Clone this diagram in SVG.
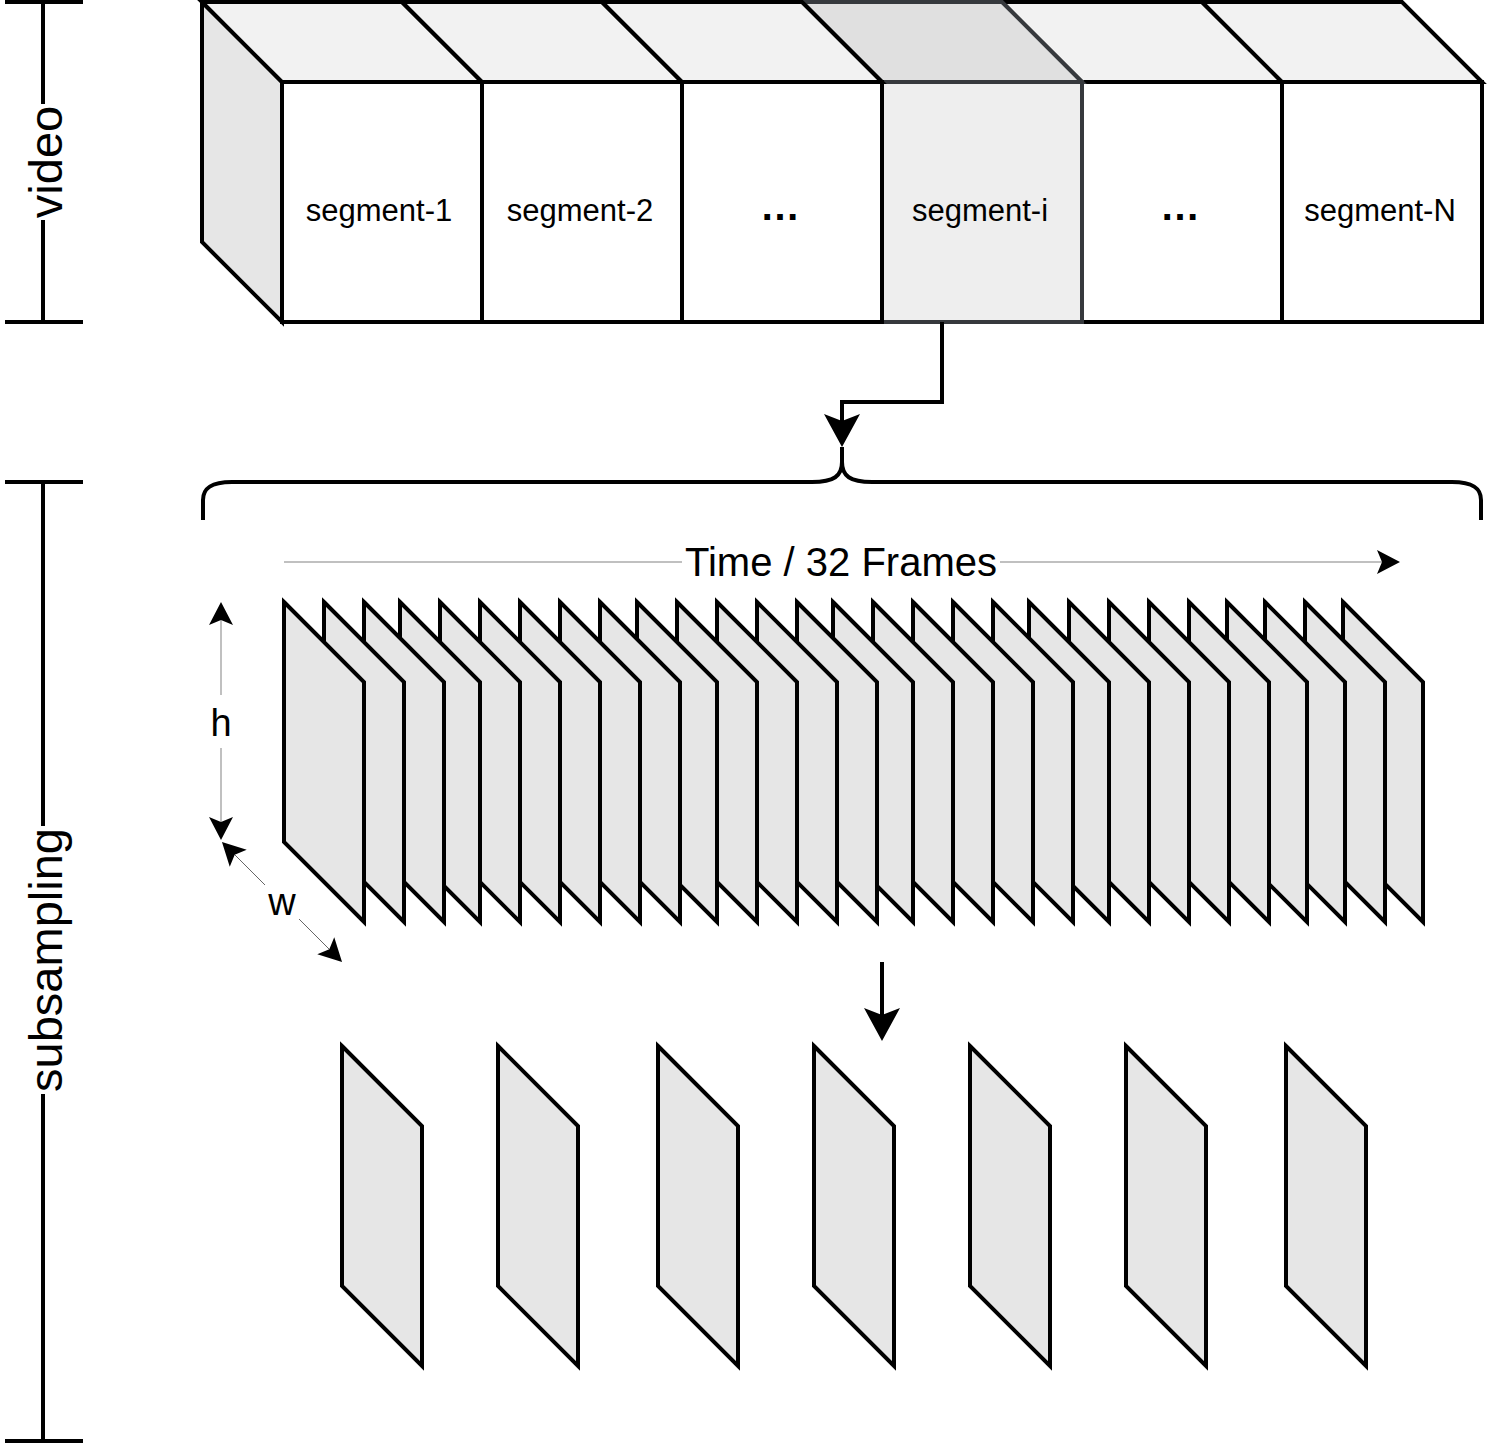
<svg xmlns="http://www.w3.org/2000/svg" width="1488" height="1444" viewBox="0 0 1488 1444">
<style>
.top{fill:#f2f2f2;stroke:#000;stroke-width:4}
.front{fill:#fff;stroke:#000;stroke-width:4}
.si-top{fill:#e0e0e0;stroke:#36393d;stroke-width:4}
.si-front{fill:#eeeeee;stroke:#36393d;stroke-width:4}
.side{fill:#e6e6e6;stroke:#000;stroke-width:4}
.frame{fill:#e6e6e6;stroke:#000;stroke-width:4}
.ln{fill:none;stroke:#000;stroke-width:4}
.gl{fill:none;stroke:#c0c0c0;stroke-width:2}
.tl{fill:none;stroke:#666;stroke-width:1}
.txt{font-family:"Liberation Sans",Arial,Helvetica,sans-serif;fill:#000;text-anchor:middle}
.seg{font-size:31px}
.dots{font-size:40px;font-weight:bold}
.big{font-size:47px}
.bg{fill:#fff;stroke:none}
</style>
<defs>
<marker id="ah-big" markerUnits="userSpaceOnUse" markerWidth="34" markerHeight="38" refX="7" refY="19" orient="auto" overflow="visible"><path d="M0,1 L33,19 L0,37 L7,19 Z" fill="#000"/></marker>
<marker id="ah-sm" markerUnits="userSpaceOnUse" markerWidth="24" markerHeight="24" refX="5" refY="12" orient="auto-start-reverse" overflow="visible"><path d="M0,0 L23,12 L0,24 L5,12 Z" fill="#000"/></marker>
</defs>
<rect x="0" y="0" width="1488" height="1444" fill="#fff"/>

<!-- scale bars -->
<g id="bar-video">
<path class="ln" d="M43,2 L43,322 M5,2 L83,2 M5,322 L83,322"/>
<rect class="bg" x="22" y="104" width="48" height="116"/>
<text class="txt big" transform="translate(62,162) rotate(-90)">video</text>
</g>
<g id="bar-subsampling">
<path class="ln" d="M43,482 L43,1441 M5,482 L83,482 M5,1441 L83,1441"/>
<rect class="bg" x="22" y="826" width="52" height="268"/>
<text class="txt big" transform="translate(62,960) rotate(-90)">subsampling</text>
</g>

<!-- video cube -->
<g id="video-cube">
<polygon class="side" points="202,2 282,82 282,322 202,242"/>
</g>
<g id="segment-4">
<polygon class="top" points="1002,2 1202,2 1282,82 1082,82"/>
<rect class="front" x="1082" y="82" width="200" height="240"/>
<text class="txt dots" x="1180" y="220">…</text>
</g>
<g id="segment-N">
<polygon class="top" points="1202,2 1402,2 1482,82 1282,82"/>
<rect class="front" x="1282" y="82" width="200" height="240"/>
<text class="txt seg" x="1380" y="221">segment-N</text>
</g>
<g id="segment-i">
<polygon class="si-top" points="802,2 1002,2 1082,82 882,82"/>
<rect class="si-front" x="882" y="82" width="200" height="240"/>
<text class="txt seg" x="980" y="221">segment-i</text>
</g>
<g id="segment-1">
<polygon class="top" points="202,2 402,2 482,82 282,82"/>
<rect class="front" x="282" y="82" width="200" height="240"/>
<text class="txt seg" x="379" y="221">segment-1</text>
</g>
<g id="segment-2">
<polygon class="top" points="402,2 602,2 682,82 482,82"/>
<rect class="front" x="482" y="82" width="200" height="240"/>
<text class="txt seg" x="580" y="221">segment-2</text>
</g>
<g id="segment-3">
<polygon class="top" points="602,2 802,2 882,82 682,82"/>
<rect class="front" x="682" y="82" width="200" height="240"/>
<text class="txt dots" x="780" y="220">…</text>
</g>

<!-- brace -->
<g id="brace">
<path class="ln" d="M203,520 L203,500 C203,489 210,482 232,482 L812,482 C834,482 842,476 842,462 L842,447 M842,462 C842,476 850,482 872,482 L1452,482 C1474,482 1481,489 1481,500 L1481,520"/>
</g>

<!-- 32 frames stack -->
<g id="frames">
<g id="frame-28"><polygon class="frame" points="1343,602 1423,682 1423,922 1343,842"/></g>
<g id="frame-27"><polygon class="frame" points="1305,602 1385,682 1385,922 1305,842"/></g>
<g id="frame-26"><polygon class="frame" points="1265,602 1345,682 1345,922 1265,842"/></g>
<g id="frame-25"><polygon class="frame" points="1227,602 1307,682 1307,922 1227,842"/></g>
<g id="frame-24"><polygon class="frame" points="1189,602 1269,682 1269,922 1189,842"/></g>
<g id="frame-23"><polygon class="frame" points="1149,602 1229,682 1229,922 1149,842"/></g>
<g id="frame-22"><polygon class="frame" points="1109,602 1189,682 1189,922 1109,842"/></g>
<g id="frame-21"><polygon class="frame" points="1069,602 1149,682 1149,922 1069,842"/></g>
<g id="frame-20"><polygon class="frame" points="1029,602 1109,682 1109,922 1029,842"/></g>
<g id="frame-19"><polygon class="frame" points="993,602 1073,682 1073,922 993,842"/></g>
<g id="frame-18"><polygon class="frame" points="953,602 1033,682 1033,922 953,842"/></g>
<g id="frame-17"><polygon class="frame" points="913,602 993,682 993,922 913,842"/></g>
<g id="frame-16"><polygon class="frame" points="873,602 953,682 953,922 873,842"/></g>
<g id="frame-15"><polygon class="frame" points="833,602 913,682 913,922 833,842"/></g>
<g id="frame-14"><polygon class="frame" points="797,602 877,682 877,922 797,842"/></g>
<g id="frame-13"><polygon class="frame" points="757,602 837,682 837,922 757,842"/></g>
<g id="frame-12"><polygon class="frame" points="717,602 797,682 797,922 717,842"/></g>
<g id="frame-11"><polygon class="frame" points="677,602 757,682 757,922 677,842"/></g>
<g id="frame-10"><polygon class="frame" points="637,602 717,682 717,922 637,842"/></g>
<g id="frame-9"><polygon class="frame" points="600,602 680,682 680,922 600,842"/></g>
<g id="frame-8"><polygon class="frame" points="560,602 640,682 640,922 560,842"/></g>
<g id="frame-7"><polygon class="frame" points="520,602 600,682 600,922 520,842"/></g>
<g id="frame-6"><polygon class="frame" points="480,602 560,682 560,922 480,842"/></g>
<g id="frame-5"><polygon class="frame" points="440,602 520,682 520,922 440,842"/></g>
<g id="frame-4"><polygon class="frame" points="400,602 480,682 480,922 400,842"/></g>
<g id="frame-3"><polygon class="frame" points="364,602 444,682 444,922 364,842"/></g>
<g id="frame-2"><polygon class="frame" points="324,602 404,682 404,922 324,842"/></g>
<g id="frame-1"><polygon class="frame" points="284,602 364,682 364,922 284,842"/></g>
</g>

<!-- sampled frames -->
<g id="sampled">
<g id="sample-1"><polygon class="frame" points="342,1046 422,1126 422,1366 342,1286"/></g>
<g id="sample-2"><polygon class="frame" points="498,1046 578,1126 578,1366 498,1286"/></g>
<g id="sample-3"><polygon class="frame" points="658,1046 738,1126 738,1366 658,1286"/></g>
<g id="sample-4"><polygon class="frame" points="814,1046 894,1126 894,1366 814,1286"/></g>
<g id="sample-5"><polygon class="frame" points="970,1046 1050,1126 1050,1366 970,1286"/></g>
<g id="sample-6"><polygon class="frame" points="1126,1046 1206,1126 1206,1366 1126,1286"/></g>
<g id="sample-7"><polygon class="frame" points="1286,1046 1366,1126 1366,1366 1286,1286"/></g>
</g>

<!-- connectors -->
<g id="connectors">
<path class="ln" d="M942,322 L942,402 L842,402 L842,421" marker-end="url(#ah-big)"/>
<path class="ln" d="M882,962 L882,1015" marker-end="url(#ah-big)"/>
<g id="time-axis">
<path class="gl" d="M284,562 L1382,562" marker-end="url(#ah-sm)"/>
<rect class="bg" x="682" y="540" width="318" height="44"/>
<text class="txt" style="font-size:40px" x="841" y="576">Time / 32 Frames</text>
</g>
<g id="h-axis">
<path class="gl" d="M221,620 L221,822" marker-start="url(#ah-sm)" marker-end="url(#ah-sm)"/>
<rect class="bg" x="205" y="695" width="32" height="53"/>
<text class="txt" style="font-size:38px" x="221" y="736">h</text>
</g>
<g id="w-axis">
<path class="tl" d="M234.7,854.7 L329.3,949.3" marker-start="url(#ah-sm)" marker-end="url(#ah-sm)"/>
<rect class="bg" x="265" y="885" width="34" height="34"/>
<text class="txt" style="font-size:38px" x="282" y="915">w</text>
</g>
</g>
</svg>
